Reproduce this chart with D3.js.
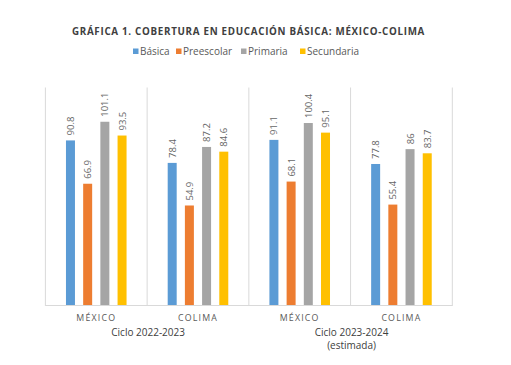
<!DOCTYPE html>
<html>
<head>
<meta charset="utf-8">
<script src="https://cdn.jsdelivr.net/npm/d3@7"></script>
<style>
  html, body { margin: 0; padding: 0; background: #fff; }
  svg { display: block; }
  text { font-family: "Open Sans", "Lato", sans-serif; }
</style>
</head>
<body>
<svg id="chart" width="511" height="365"></svg>
<script>
const groups = ["MÉXICO|2022", "COLIMA|2022", "MÉXICO|2023", "COLIMA|2023"];
const groupLabels = ["MÉXICO", "COLIMA", "MÉXICO", "COLIMA"];
const series = ["Básica", "Preescolar", "Primaria", "Secundaria"];
const colors = ["#5B9BD5", "#ED7D31", "#A5A5A5", "#FFC000"];
const basica = [90.8, 78.4, 91.1, 77.8];
const preescolar = [66.9, 54.9, 68.1, 55.4];
const primaria = [101.1, 87.2, 100.4, 86];
const secundaria = [93.5, 84.6, 95.1, 83.7];
const cycles = [["Ciclo 2022-2023"], ["Ciclo 2023-2024", "(estimada)"]];
const title = "GRÁFICA 1. COBERTURA EN EDUCACIÓN BÁSICA: MÉXICO-COLIMA";

const values = [basica, preescolar, primaria, secundaria];
const svg = d3.select("#chart");

const pLeft = 45.4, pRight = 452.3, pTop = 87.5, pBottom = 305;

const x0 = d3.scaleBand().domain(groups).range([pLeft, pRight]).padding(0);
const x1 = d3.scaleBand().domain(series).range([0, x0.bandwidth()])
  .paddingInner(0.477).paddingOuter(1.196);
const y = d3.scaleLinear().domain([0, 120]).range([pBottom, pTop]);

// Title
svg.append("text")
  .attr("x", 248.5).attr("y", 34.5)
  .attr("text-anchor", "middle")
  .attr("font-size", 9.8).attr("font-weight", "bold")
  .attr("letter-spacing", 0.7)
  .attr("fill", "#404040")
  .text(title);

// Legend
const legendX = [133, 176, 241, 300];
series.forEach((s, i) => {
  const g = svg.append("g").attr("transform", `translate(${legendX[i]},51)`);
  g.append("rect").attr("x", 0).attr("y", -2.5).attr("width", 5.5).attr("height", 5.5).attr("fill", colors[i]);
  g.append("text").attr("x", 7).attr("y", 3.8).attr("font-size", 10).attr("fill", "#595959").text(s);
});

// Grid/frame lines
const boundaries = [pLeft, ...groups.slice(1).map(g => x0(g)), pRight];
svg.selectAll("line.sep").data(boundaries).enter().append("line")
  .attr("class", "sep")
  .attr("x1", d => d).attr("x2", d => d)
  .attr("y1", pTop).attr("y2", pBottom + 1)
  .attr("stroke", "#d9d9d9").attr("stroke-width", 1);
svg.append("line")
  .attr("x1", pLeft).attr("x2", pRight).attr("y1", pBottom + 0.5).attr("y2", pBottom + 0.5)
  .attr("stroke", "#d9d9d9").attr("stroke-width", 1);

// Bars
groups.forEach((g, gi) => {
  series.forEach((s, si) => {
    const v = values[si][gi];
    const bx = x0(g) + x1(s);
    svg.append("rect")
      .attr("x", bx).attr("y", y(v))
      .attr("width", x1.bandwidth()).attr("height", y(0) - y(v))
      .attr("fill", colors[si]);
    svg.append("text")
      .attr("transform", `translate(${bx + x1.bandwidth() / 2 + 3.5},${y(v) - 5}) rotate(-90)`)
      .attr("font-size", 9.5).attr("fill", "#666666")
      .text(String(v));
  });
});

// Category labels
groups.forEach((g, gi) => {
  svg.append("text")
    .attr("x", x0(g) + x0.bandwidth() / 2).attr("y", 321)
    .attr("text-anchor", "middle")
    .attr("font-size", 8.8).attr("letter-spacing", 1.2)
    .attr("fill", "#595959")
    .text(groupLabels[gi]);
});

// Cycle labels
cycles.forEach((lines, ci) => {
  const cx = x0(groups[ci * 2 + 1]);
  lines.forEach((t, li) => {
    svg.append("text")
      .attr("x", cx + 1).attr("y", 336 + li * 13)
      .attr("text-anchor", "middle")
      .attr("font-size", 10).attr("fill", "#404040")
      .text(t);
  });
});
</script>
</body>
</html>
